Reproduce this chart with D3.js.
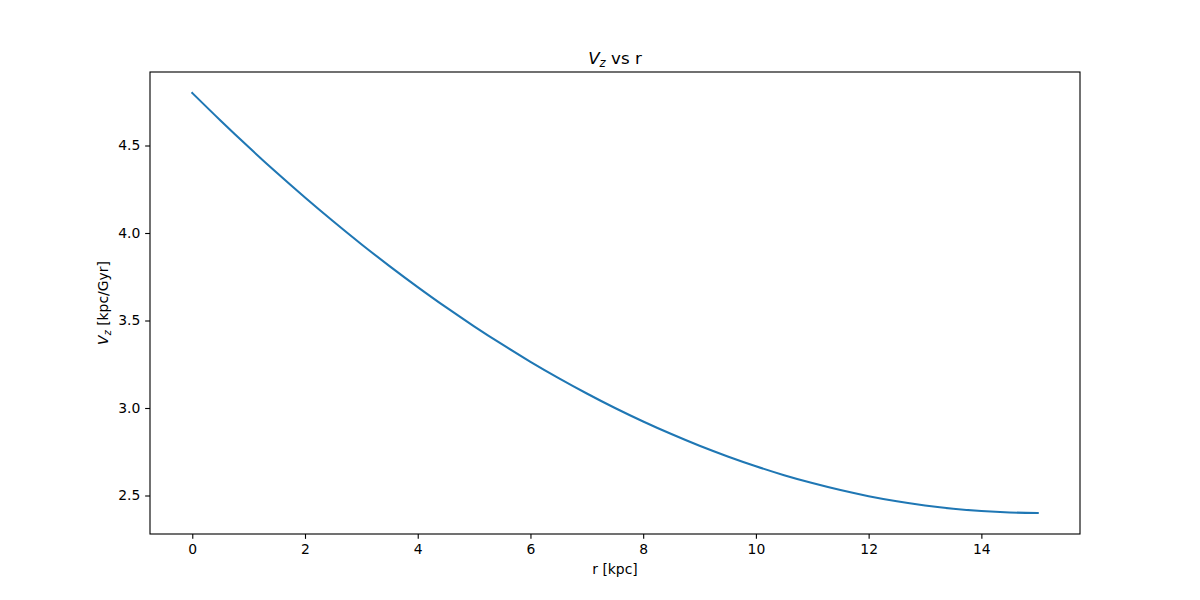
<!DOCTYPE html>
<html><head><meta charset="utf-8">
<script src="https://cdn.jsdelivr.net/npm/d3@7"></script>
<style>body{margin:0;background:#fff}svg{display:block}text{font-family:"DejaVu Sans",sans-serif;fill:#000}</style>
</head><body>
<svg id="c" width="1200" height="600"></svg>
<script>
const rValues = [0,0.5,1,1.5,2,2.5,3,3.5,4,4.5,5,5.5,6,6.5,7,7.5,8,8.5,9,9.5,10,10.5,11,11.5,12,12.5,13,13.5,14,14.5,15];
const vzValues = [4.800,4.643,4.491,4.344,4.203,4.067,3.936,3.811,3.691,3.576,3.467,3.363,3.264,3.171,3.083,3.000,2.923,2.851,2.784,2.723,2.667,2.616,2.571,2.531,2.496,2.467,2.443,2.424,2.411,2.403,2.400];
const xTicks = [0,2,4,6,8,10,12,14];
const yTicks = [2.5,3.0,3.5,4.0,4.5];

const svg = d3.select("#c");
const L=150,R=1080,T=72,B=534;
const x = d3.scaleLinear().domain([-0.75,15.75]).range([L,R]);
const y = d3.scaleLinear().domain([2.28,4.92]).range([B,T]);

const line = d3.line().x((d,i)=>x(rValues[i])).y(d=>y(d)).curve(d3.curveMonotoneX);
svg.append("path").datum(vzValues).attr("d",line).attr("fill","none").attr("stroke","#1f77b4").attr("stroke-width",2.08).attr("stroke-linecap","square");

const xa = svg.append("g").attr("transform",`translate(0,${B})`).call(d3.axisBottom(x).tickValues(xTicks).tickSize(4.86).tickPadding(4.86).tickFormat(d3.format("d")));
const ya = svg.append("g").attr("transform",`translate(${L},0)`).call(d3.axisLeft(y).tickValues(yTicks).tickSize(4.86).tickPadding(4.86).tickFormat(d3.format(".1f")));
[xa,ya].forEach(a=>{a.select(".domain").remove();a.selectAll("line").attr("stroke","#000").attr("stroke-width",1.11);a.selectAll("text").attr("font-size","13.9px").attr("font-family","DejaVu Sans, sans-serif").attr("fill","#000");});

svg.append("rect").attr("x",L).attr("y",T).attr("width",R-L).attr("height",B-T).attr("fill","none").attr("stroke","#000").attr("stroke-width",1.11);

const title = svg.append("text").attr("x",(L+R)/2).attr("y",64).attr("text-anchor","middle").attr("font-size","16.7px");
title.append("tspan").attr("font-style","italic").text("V");
title.append("tspan").attr("font-style","italic").attr("font-size","11.7px").attr("dy",3).text("z");
title.append("tspan").attr("dy",-3).text(" vs r");

svg.append("text").attr("x",(L+R)/2).attr("y",574).attr("text-anchor","middle").attr("font-size","13.9px").text("r [kpc]");

const yl = svg.append("text").attr("transform","translate(108,303) rotate(-90)").attr("text-anchor","middle").attr("font-size","13.9px");
yl.append("tspan").attr("font-style","italic").text("V");
yl.append("tspan").attr("font-style","italic").attr("font-size","9.7px").attr("dy",2.5).text("z");
yl.append("tspan").attr("dy",-2.5).text(" [kpc/Gyr]");
</script>
</body></html>
